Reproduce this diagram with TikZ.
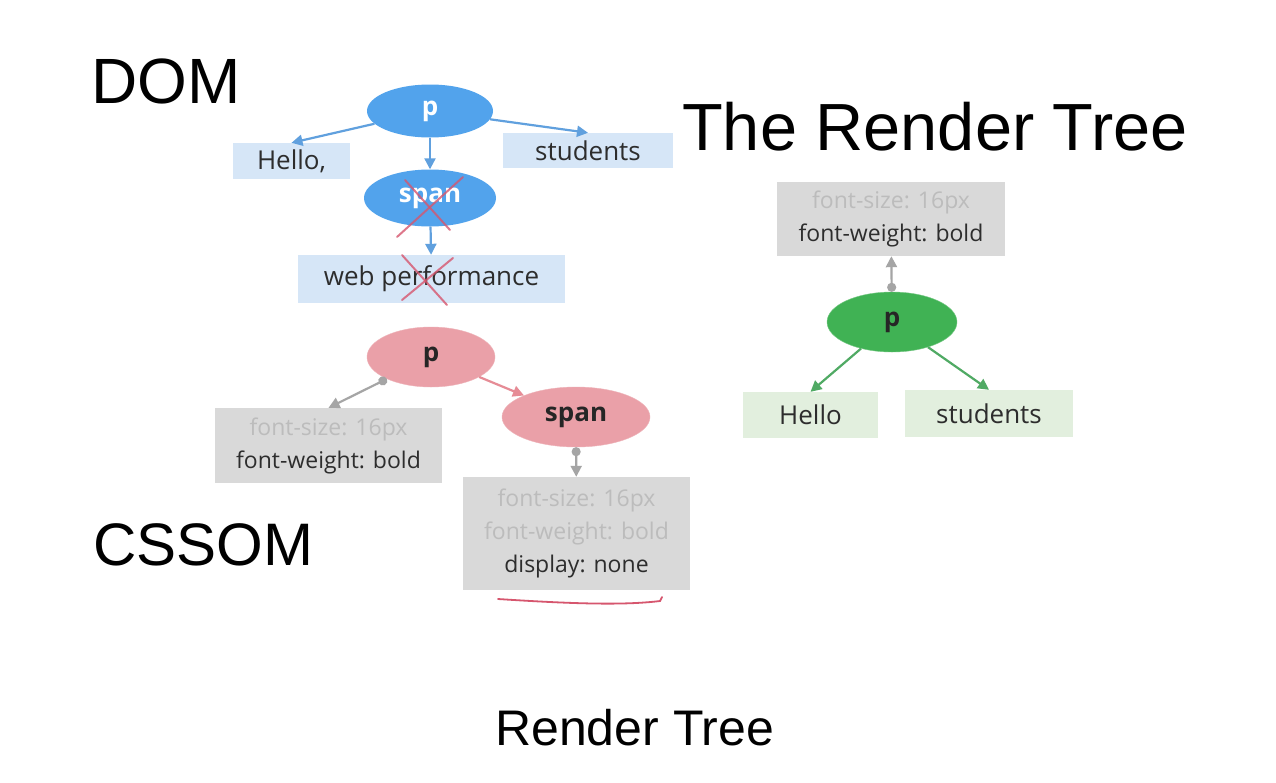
\documentclass[tikz,border=0pt]{standalone}
\usepackage{fontspec}
\setmainfont{Liberation Sans}
\newfontfamily\osans{Open Sans}
\usetikzlibrary{shapes.geometric,arrows.meta}
\definecolor{domblue}{RGB}{82,163,236}
\definecolor{domarrow}{RGB}{96,160,222}
\definecolor{domfill}{RGB}{214,230,247}
\definecolor{csspink}{RGB}{234,160,168}
\definecolor{cssarrow}{RGB}{230,140,150}
\definecolor{boxgrey}{RGB}{217,217,217}
\definecolor{lightgreytext}{RGB}{188,188,188}
\definecolor{darktext}{RGB}{45,45,45}
\definecolor{rtgreen}{RGB}{64,178,84}
\definecolor{rtarrow}{RGB}{80,170,100}
\definecolor{rtfill}{RGB}{226,239,222}
\definecolor{greyarrow}{RGB}{165,165,165}
\definecolor{markred}{RGB}{214,86,110}
\tikzset{
  title/.style={anchor=base west, inner sep=0pt, text=black},
  ell/.style={ellipse, inner sep=0pt, font=\osans\bfseries\fontsize{26}{26}\selectfont},
  domell/.style={ell, fill=domblue, text=white},
  cssell/.style={ell, fill=csspink, draw=csspink!80!white, text=black!85},
  rtell/.style={ell, fill=rtgreen, draw=rtgreen!70!white, text=black!85},
  txtbox/.style={rectangle, inner sep=0pt, text=darktext, font=\osans\fontsize{26}{30}\selectfont},
  dombox/.style={txtbox, fill=domfill},
  rtbox/.style={txtbox, fill=rtfill},
  propbox/.style={rectangle, inner sep=0pt, fill=boxgrey, text=darktext, align=center, font=\osans\fontsize{23}{33}\selectfont},
  tip/.style={-{Triangle[length=11pt,width=11pt]}},
  domedge/.style={draw=domarrow, line width=2.2pt, tip},
  cssedge/.style={draw=cssarrow, line width=2.2pt, tip},
  rtedge/.style={draw=rtarrow, line width=2.2pt, tip},
  propedge/.style={draw=greyarrow, line width=2.2pt, {Circle[length=9pt]}-{Triangle[length=11pt,width=11pt]}},
  cross/.style={draw=markred, opacity=0.8, line width=2pt, line cap=round},
}
\newcommand{\faded}[1]{\textcolor{lightgreytext}{#1}}
\begin{document}
\begin{tikzpicture}[x=1pt,y=-1pt]
\useasboundingbox[fill=white] (0,0) rectangle (1276,782);

% titles
\node[title, font=\fontsize{64}{64}\selectfont] (tdom) at (91,103) {DOM};
\node[title, font=\fontsize{60}{60}\selectfont] (tcss) at (93,565) {CSSOM};
\node[title, font=\fontsize{66.7}{67}\selectfont] (trt) at (682,150) {The Render Tree};
\node[title, font=\fontsize{50}{50}\selectfont] (tbot) at (495,745) {Render Tree};

% DOM tree
\node[domell, minimum width=126pt, minimum height=53pt] (dp) at (430,111) {p};
\node[dombox, minimum width=117pt, minimum height=36pt] (dhello) at (291.5,161) {Hello,};
\node[dombox, minimum width=170pt, minimum height=35pt] (dstud) at (588,150.5) {students};
\node[domell, minimum width=132pt, minimum height=57pt] (dspan) at (430,198) {span};
\node[dombox, minimum width=267pt, minimum height=48pt] (dweb) at (431.5,279) {web performance};
\draw[domedge] (dp) -- (dhello.north);
\draw[domedge] (dp) -- (dstud.north);
\draw[domedge] (dp) -- (dspan);
\draw[domedge] (dspan) -- (dweb);

% crosses
\draw[cross] (405,180) -- (450,230);
\draw[cross] (463,177) -- (397,237);
\draw[cross] (402,255) -- (447,305);
\draw[cross] (453,258) -- (402,300);

% CSSOM tree
\node[cssell, minimum width=128pt, minimum height=60pt] (cp) at (431,357) {p};
\node[cssell, minimum width=148pt, minimum height=60pt] (cspan) at (576,417) {span};
\node[propbox, minimum width=227pt, minimum height=75pt] (cbox1) at (328.5,445.5)
  {\faded{font-size: 16px}\\font-weight: bold};
\node[propbox, minimum width=227pt, minimum height=113pt] (cbox2) at (576.5,533.5)
  {\faded{font-size: 16px}\\\faded{font-weight: bold}\\display: none};
\draw[cssedge] (cp) -- (cspan);
\draw[propedge] (cp) -- (cbox1.north);
\draw[propedge] (cspan) -- (cbox2);

% red underline
\draw[draw=markred, line width=1.8pt, line cap=round]
  (498,599) .. controls (560,603) and (620,606) .. (660,601) -- (662,597);

% Render tree
\node[propbox, minimum width=228pt, minimum height=74pt] (rbox) at (891,219)
  {\faded{font-size: 16px}\\font-weight: bold};
\node[rtell, minimum width=130pt, minimum height=60pt] (rp) at (892,322) {p};
\node[rtbox, minimum width=135pt, minimum height=46pt] (rhello) at (810.5,415) {Hello};
\node[rtbox, minimum width=168pt, minimum height=47pt] (rstud) at (989,413.5) {students};
\draw[propedge] (rp) -- (rbox);
\draw[rtedge] (rp) -- (rhello.north);
\draw[rtedge] (rp) -- (rstud.north);
\end{tikzpicture}
\end{document}
